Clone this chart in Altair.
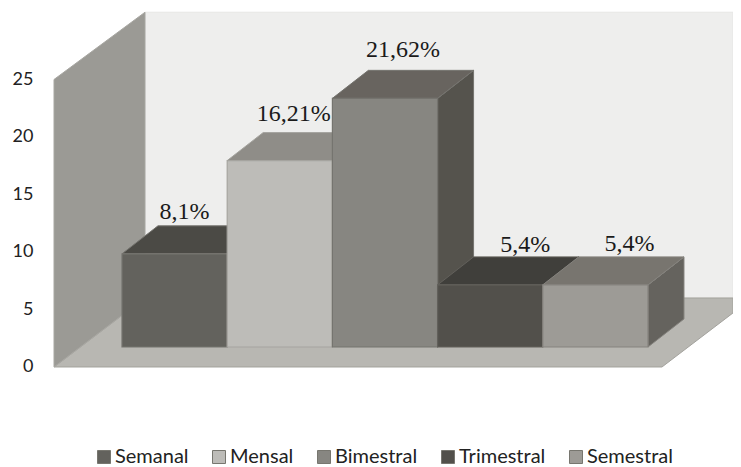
import altair as alt
import pandas as pd

categories = ["Semanal", "Mensal", "Bimestral", "Trimestral", "Semestral"]
values = [8.1, 16.21, 21.62, 5.4, 5.4]
labels = ["8,1%", "16,21%", "21,62%", "5,4%", "5,4%"]
ticks = [0, 5, 10, 15, 20, 25]

front_colors = ["#63625d", "#bdbcb8", "#878681", "#52504b", "#9d9b96"]
top_colors = ["#4b4a45", "#8f8d88", "#68645f", "#403f3b", "#78756f"]
side_colors = ["#55534d", "#6f6d68", "#55534d", "#45433f", "#65635e"]
edge_colors = ["#75746f", "#a5a49f", "#75746f", "#62605b", "#85837e"]
label_dx = [-8, -4, 0, 17, 16]
label_dy = [-7, -12, -13, -5, -6]

# 3-D projection, in axis units (x: one bar = 1; y: value units)
BASE = 1.74       # bars stand in front of the floor's front edge by this lift
DX, DY = 0.342, 2.435   # depth of a bar
X_MIN, X_MAX = -0.6464, 5.808
WALL_X = 0.2186
FLOOR_R = 5.133
FLOOR_BACK = 6.0
WALL_TOP_FRONT, WALL_TOP_BACK = 25.0, 30.85

xs = alt.Scale(domain=[X_MIN, X_MAX], nice=False, zero=False)
ys = alt.Scale(domain=[-8.696, 31.217], nice=False, zero=False)
y_axis = alt.Axis(values=ticks, domain=False, ticks=False, grid=False, title=None,
                  labelFont="Lato", labelFontSize=18, labelColor="#222222",
                  labelPadding=21, zindex=1)


def face(rows, fill, edge=None):
    df = pd.DataFrame(rows, columns=["x", "y", "y2"])
    return alt.Chart(df).mark_area(
        fill=fill, stroke=edge or fill, strokeWidth=1, opacity=1, interpolate="linear"
    ).encode(
        x=alt.X("x:Q", scale=xs, axis=None),
        y=alt.Y("y:Q", scale=ys, axis=y_axis, stack=None),
        y2="y2:Q",
    )


layers = [
    face([(WALL_X, FLOOR_BACK, WALL_TOP_BACK), (X_MAX, FLOOR_BACK, WALL_TOP_BACK)],
         "#eeeeed", "#e6e6e5"),
    face([(X_MIN, 0, 0), (WALL_X, 0, FLOOR_BACK), (FLOOR_R, 0, FLOOR_BACK),
          (X_MAX, 4.7, FLOOR_BACK)], "#b8b7b2", "#a3a29d"),
    face([(X_MIN, 0, WALL_TOP_FRONT), (WALL_X, FLOOR_BACK, WALL_TOP_BACK)],
         "#9b9a95", "#a8a7a2"),
]

color_enc = alt.Color(
    "cat:N",
    scale=alt.Scale(domain=categories, range=front_colors),
    legend=alt.Legend(
        orient="none", legendX=40, legendY=439, direction="horizontal", columns=5,
        gridAlign="none", title=None, symbolType="square", symbolSize=169,
        symbolStrokeWidth=1, symbolStrokeColor="#77766f", columnPadding=20,
        labelOffset=1, labelFont="Lato", labelFontSize=20, labelColor="#222222",
        padding=0,
    ),
)

for i, (cat, val) in enumerate(zip(categories, values)):
    top = BASE + val
    layers.append(face([(i + 1, BASE, top), (i + 1 + DX, BASE + DY, top + DY)],
                       side_colors[i], edge_colors[i]))
    layers.append(face([(i, top, top), (i + DX, top, top + DY), (i + 1, top, top + DY),
                        (i + 1 + DX, top + DY, top + DY)],
                       top_colors[i], edge_colors[i]))
    df = pd.DataFrame({"cat": [cat], "x": [i], "x2": [i + 1], "y": [BASE], "y2": [top]})
    layers.append(
        alt.Chart(df).mark_rect(stroke=edge_colors[i], strokeWidth=1.2).encode(
            x=alt.X("x:Q", scale=xs, axis=None), x2="x2:Q",
            y=alt.Y("y:Q", scale=ys, axis=y_axis), y2="y2:Q",
            color=color_enc,
        )
    )

for i, (lab, val) in enumerate(zip(labels, values)):
    df = pd.DataFrame({"x": [i + 0.5 + DX / 2], "y": [BASE + val + DY], "t": [lab]})
    layers.append(
        alt.Chart(df).mark_text(
            font="Liberation Serif", fontSize=24, color="#1a1a1a", baseline="alphabetic",
            align="center", dx=label_dx[i], dy=label_dy[i],
        ).encode(
            x=alt.X("x:Q", scale=xs, axis=None),
            y=alt.Y("y:Q", scale=ys, axis=y_axis),
            text="t:N",
        )
    )

chart = alt.layer(*layers).properties(
    width=679, height=459,
    autosize=alt.AutoSizeParams(type="none"),
    padding={"left": 46, "top": 0, "right": 0, "bottom": 0},
    background="white",
).configure_view(stroke=None)

chart.save("out.html", embed_options={"renderer": "svg", "actions": False})
